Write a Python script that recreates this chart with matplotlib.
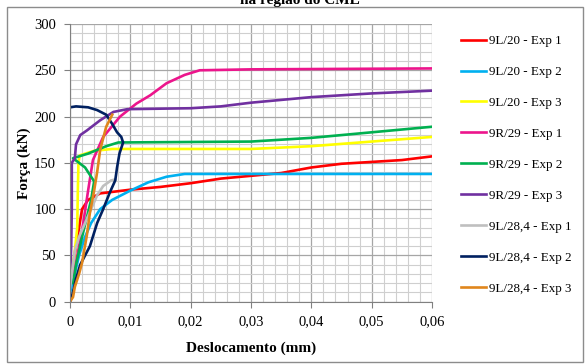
import matplotlib.pyplot as plt
from matplotlib.patches import Rectangle
from matplotlib.ticker import MultipleLocator

plt.rcParams['font.family'] = ['Liberation Serif', 'DejaVu Serif']

labels = ['9L/20 - Exp 1', '9L/20 - Exp 2', '9L/20 - Exp 3',
          '9R/29 - Exp 1', '9R/29 - Exp 2', '9R/29 - Exp 3',
          '9L/28,4 - Exp 1', '9L/28,4 - Exp 2', '9L/28,4 - Exp 3']
colors = ['#FF0000', '#00B0F0', '#FFFF00', '#EC158C', '#00B050',
          '#7030A0', '#BFBFBF', '#002060', '#E0861C']

# deslocamento (mm) / forca (kN)
x_l20_1 = [0, 0.0005, 0.001, 0.0015, 0.002, 0.003, 0.005, 0.01, 0.015, 0.02, 0.025, 0.03,
           0.035, 0.04, 0.045, 0.05, 0.055, 0.06]
y_l20_1 = [25, 40, 60, 80, 100, 110, 117, 121, 124, 128, 133, 136, 139, 145, 149, 151, 153, 157]

x_l20_2 = [0, 0.0008, 0.0015, 0.0025, 0.0035, 0.005, 0.007, 0.01, 0.013, 0.016, 0.019, 0.06]
y_l20_2 = [10, 30, 50, 70, 85, 100, 110, 120, 129, 135, 138, 138]

x_l20_3 = [0.0003, 0.0008, 0.0012, 0.0013, 0.0014, 0.0016, 0.004, 0.007, 0.03, 0.04, 0.05, 0.06]
y_l20_3 = [30, 55, 80, 120, 150, 158, 163, 165, 165, 168, 173, 178]

x_r29_1 = [0, 0.0008, 0.0015, 0.0022, 0.003, 0.0038, 0.0055, 0.0083, 0.011, 0.0133, 0.016,
           0.019, 0.0215, 0.03, 0.06]
y_r29_1 = [25, 35, 60, 85, 120, 153, 178, 200, 214, 223, 236, 245, 250, 251, 252]

x_r29_2 = [0.0005, 0.001, 0.002, 0.0035, 0.004, 0.0025, 0.0005, 0.003, 0.006, 0.008, 0.03,
           0.04, 0.05, 0.06]
y_r29_2 = [20, 40, 70, 110, 130, 145, 155, 160, 168, 172, 173, 177, 183, 189]

x_r29_3 = [0, 0.0002, 0.0003, 0.0003, 0.0008, 0.001, 0.0017, 0.0028, 0.005, 0.0072, 0.0095,
           0.02, 0.025, 0.03, 0.035, 0.04, 0.05, 0.06]
y_r29_3 = [25, 60, 100, 150, 155, 170, 180, 185, 196, 205, 208, 209, 211, 215, 218, 221, 225, 228]

x_l28_1 = [0, 0.0003, 0.0008, 0.0015, 0.0025, 0.0035, 0.0045, 0.0055, 0.0068, 0.0075]
y_l28_1 = [15, 30, 55, 70, 85, 100, 115, 125, 131, 132]

x_l28_2 = [0, 0.0003, 0.001, 0.0017, 0.0025, 0.0033, 0.0045, 0.0055, 0.0066, 0.0075, 0.0078,
           0.0082, 0.0088, 0.0085, 0.0078, 0.007, 0.006, 0.0045, 0.003, 0.001, 0]
y_l28_2 = [0, 5, 25, 40, 50, 60, 85, 100, 118, 131, 145, 160, 172, 178, 183, 192, 202, 207,
           210, 211, 210]

x_l28_3 = [0, 0.0005, 0.0008, 0.0015, 0.002, 0.0028, 0.0033, 0.004, 0.0045, 0.005, 0.006, 0.007]
y_l28_3 = [0, 5, 16, 30, 42, 72, 96, 120, 140, 164, 189, 202]

series = [(x_l20_1, y_l20_1), (x_l20_2, y_l20_2), (x_l20_3, y_l20_3),
          (x_r29_1, y_r29_1), (x_r29_2, y_r29_2), (x_r29_3, y_r29_3),
          (x_l28_1, y_l28_1), (x_l28_2, y_l28_2), (x_l28_3, y_l28_3)]

xticks = [0, 0.01, 0.02, 0.03, 0.04, 0.05, 0.06]
xticklabels = ['0', '0,01', '0,02', '0,03', '0,04', '0,05', '0,06']

fig = plt.figure(figsize=(5.88, 3.64), dpi=100)
ax = fig.add_axes([70 / 588, 1 - 301.7 / 364, 362 / 588, 277.7 / 364])

for (xs, ys), c, lab in zip(series, colors, labels):
    ax.plot(xs, ys, color=c, lw=1.9, label=lab)

ax.set_xlim(0, 0.06)
ax.set_ylim(0, 300)
ax.set_xticks(xticks)
ax.set_xticklabels(xticklabels)
ax.set_yticks(range(0, 301, 50))
ax.xaxis.set_minor_locator(MultipleLocator(0.002))
ax.yaxis.set_minor_locator(MultipleLocator(10))
ax.grid(which='major', color='#A6A6A6', lw=0.9)
ax.grid(which='minor', color='#CFCFCF', lw=0.8)
ax.set_axisbelow(True)
for s in ['top', 'right']:
    ax.spines[s].set_visible(False)
ax.spines['left'].set_color('#808080')
ax.spines['bottom'].set_color('#808080')
ax.tick_params(which='major', length=4, color='#808080', labelsize=10.5, pad=6)
ax.tick_params(which='minor', length=0)

ax.set_xlabel('Deslocamento (mm)', fontsize=11, fontweight='bold', labelpad=9)
ax.set_ylabel('Força (kN)', fontsize=11, fontweight='bold', labelpad=2)

ax.legend(loc='upper left', bbox_to_anchor=(461 / 588, 1 - 35 / 364),
          bbox_transform=fig.transFigure, frameon=False, fontsize=9.4,
          handlelength=1.95, handletextpad=0.22, labelspacing=1.44, borderaxespad=0,
          borderpad=0)

fig.text(300 / 588, 1 - 4 / 364, 'na região do CML', ha='center', va='baseline',
         fontsize=11, fontweight='bold')
fig.patches.append(Rectangle((7 / 588, 2 / 364), 576 / 588, 355 / 364, fill=False,
                             ec='#8C8C8C', lw=1, transform=fig.transFigure))

fig.savefig('out.png', dpi=100)
